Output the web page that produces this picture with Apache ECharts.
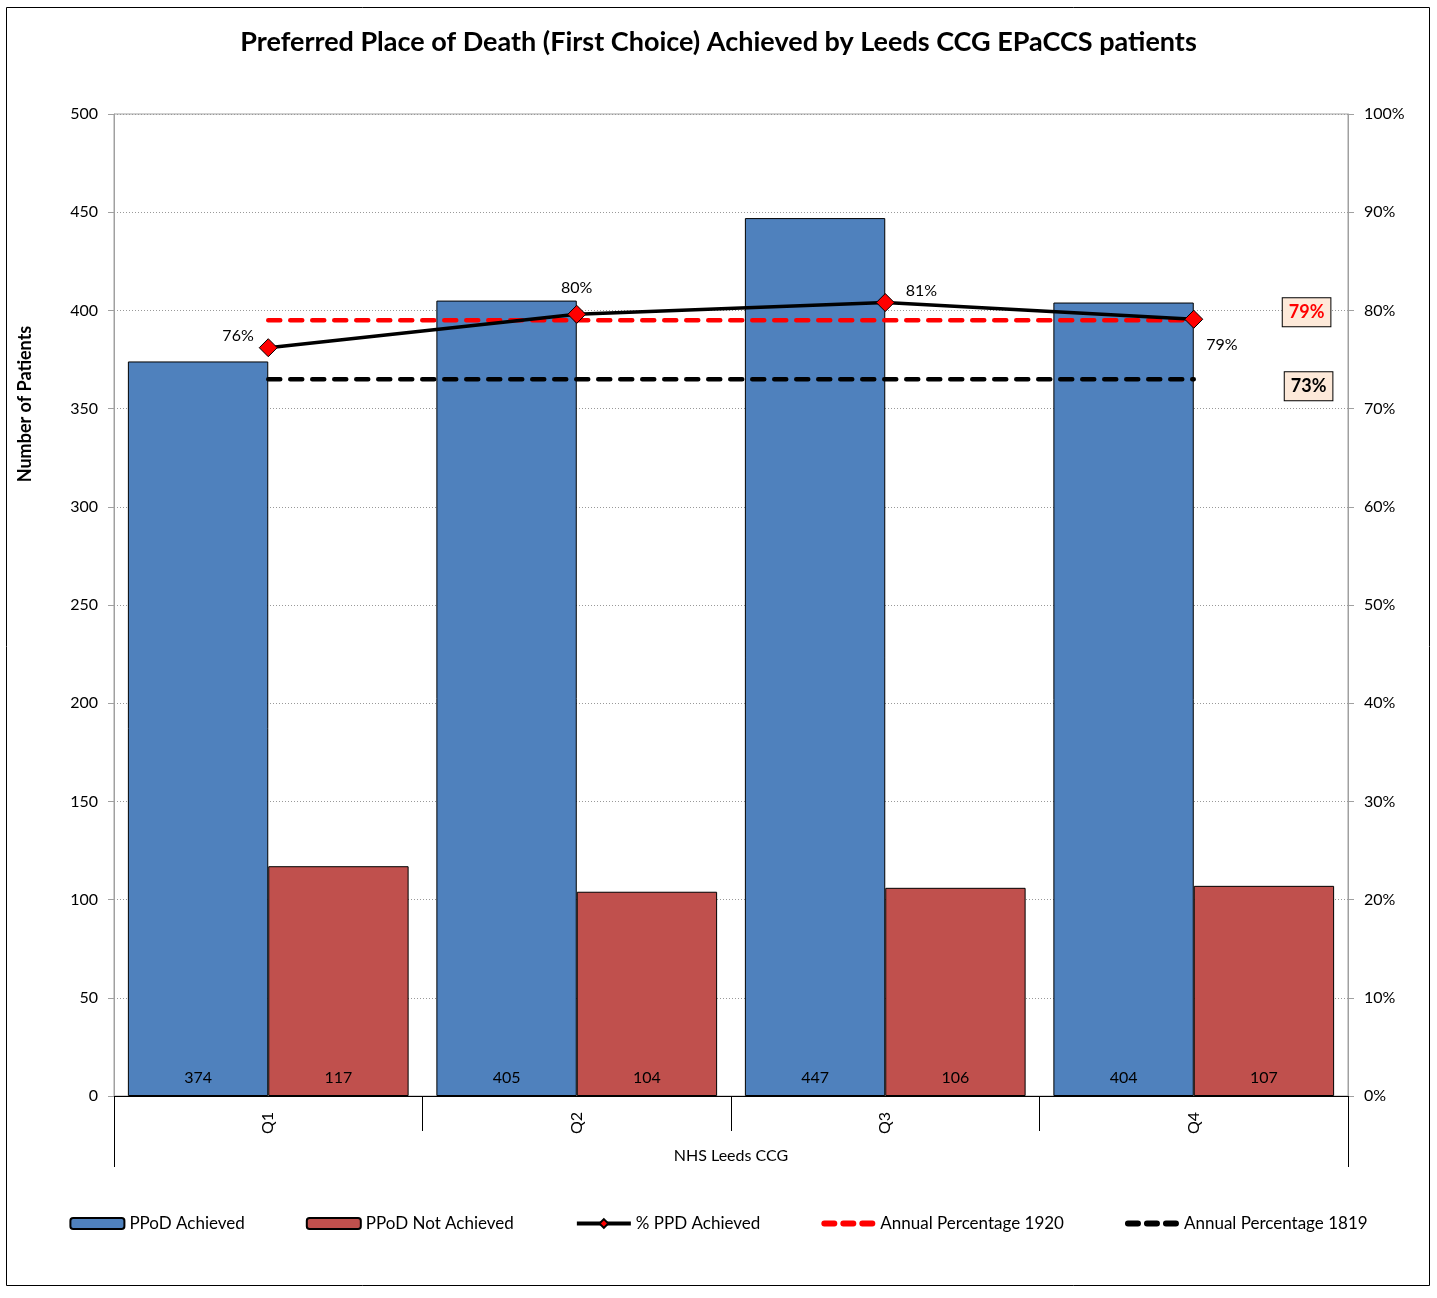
<!DOCTYPE html>
<html><head><meta charset="utf-8">
<script src="https://cdn.jsdelivr.net/npm/echarts@6/dist/echarts.min.js"></script>
<style>html,body{margin:0;padding:0;background:#fff}#c{width:1437px;height:1298px}</style>
</head><body><div id="c"></div>
<script>
const categories = ['Q1','Q2','Q3','Q4'];
const achieved = [374,405,447,404];
const notAchieved = [117,104,106,107];
const pctAchieved = [0.762,0.796,0.808,0.791];
const annual1920 = [0.79,0.79,0.79,0.79];
const annual1819 = [0.73,0.73,0.73,0.73];
const groupLabel = ['NHS Leeds CCG'];

const FONT = 'Lato';
const chart = echarts.init(document.getElementById('c'));
const pctLabelPos = [
  {position:'left', offset:[0,-12]},
  {position:'top', offset:[0,-4]},
  {position:'right', offset:[6,-12]},
  {position:'right', offset:[-2,26]}
];
const dashIcon = 'path://M3,0h10a3,3 0 0 1 0,6h-10a3,3 0 0 1 0,-6z M22,0h10a3,3 0 0 1 0,6h-10a3,3 0 0 1 0,-6z M41,0h10a3,3 0 0 1 0,6h-10a3,3 0 0 1 0,-6z';
const boxLabel = (color, off) => ({show:true, position:'right', offset:off, fontSize:18, fontWeight:'bold', color:color,
  backgroundColor:'#FDE9D9', borderColor:'#000', borderWidth:1, padding:[6,6,4,6],
  formatter:p=>Math.round(p.value*100)+'%', fontFamily:FONT});
chart.setOption({
  animation:false,
  textStyle:{fontFamily:FONT},
  title:{text:'Preferred Place of Death (First Choice) Achieved by Leeds CCG EPaCCS patients',
    left:'center', top:24, textStyle:{fontFamily:FONT,fontSize:27,fontWeight:'bold',color:'#000'}},
  graphic:[
    {type:'rect', shape:{x:6.5,y:7.5,width:1423,height:1278}, style:{fill:'none',stroke:'#000',lineWidth:1}, silent:true, z:-1},
    {type:'text', x:25, y:404, rotation:Math.PI/2, style:{text:'Number of Patients', font:'bold 18px '+FONT, fill:'#000', textAlign:'center', textVerticalAlign:'middle'}}
  ],
  grid:{left:114, right:89, top:114, bottom:202, show:true, borderColor:'#a0a0a0', borderWidth:1},
  legend:{bottom:61, left:'center', itemGap:61, itemWidth:54, itemHeight:11,
    textStyle:{fontFamily:FONT,fontSize:17,color:'#000'},
    data:[
      {name:'PPoD Achieved'},
      {name:'PPoD Not Achieved'},
      {name:'% PPD Achieved', lineStyle:{width:4}},
      {name:'Annual Percentage 1920', icon:dashIcon},
      {name:'Annual Percentage 1819', icon:dashIcon}
    ]},
  xAxis:[
    {type:'category', data:categories, position:'bottom',
      axisLine:{show:true, lineStyle:{color:'#000',width:1}},
      axisTick:{show:true, length:35, interval:0, lineStyle:{color:'#000',width:1}},
      axisLabel:{show:true, rotate:90, fontSize:16, color:'#000', margin:16, fontFamily:FONT},
      splitLine:{show:false}},
    {type:'category', data:groupLabel, position:'bottom', offset:0,
      axisLine:{show:false},
      axisTick:{show:true, length:71, lineStyle:{color:'#000',width:1}},
      axisLabel:{show:true, fontSize:16, color:'#000', margin:52, fontFamily:FONT},
      splitLine:{show:false}}
  ],
  yAxis:[
    {type:'value', min:0, max:500, interval:50,
      axisLine:{show:true, lineStyle:{color:'#a0a0a0'}},
      axisTick:{show:true, length:6, lineStyle:{color:'#a0a0a0'}},
      axisLabel:{fontSize:16, color:'#000', margin:16, fontFamily:FONT},
      splitLine:{show:true, lineStyle:{color:'#999', type:[1,2], width:1}}},
    {type:'value', min:0, max:1, interval:0.1, position:'right',
      axisLine:{show:true, lineStyle:{color:'#a0a0a0'}},
      axisTick:{show:true, length:6, lineStyle:{color:'#a0a0a0'}},
      axisLabel:{fontSize:16, color:'#000', margin:16, fontFamily:FONT,
        formatter:v=>Math.round(v*100)+'%'},
      splitLine:{show:false}}
  ],
  series:[
    {name:'PPoD Achieved', type:'bar', data:achieved, barGap:'0%', barCategoryGap:'9%',
      itemStyle:{color:'#4F81BD', borderColor:'#000', borderWidth:1},
      label:{show:true, position:'insideBottom', distance:10, fontSize:16, color:'#000', fontFamily:FONT}},
    {name:'PPoD Not Achieved', type:'bar', data:notAchieved,
      itemStyle:{color:'#C0504D', borderColor:'#000', borderWidth:1},
      label:{show:true, position:'insideBottom', distance:10, fontSize:16, color:'#000', fontFamily:FONT}},
    {name:'Annual Percentage 1920', type:'line', yAxisIndex:1, data:annual1920.map((v,i)=>{
        const d={value:v};
        if(i===annual1920.length-1) d.label=boxLabel('#FF0000',[84,-8]);
        return d;}),
      symbol:'circle', symbolSize:0, showSymbol:true, z:3,
      lineStyle:{color:'#FF0000', width:4.5, type:[12,10], cap:'round'},
      itemStyle:{color:'#FF0000'},
      label:{show:false}},
    {name:'Annual Percentage 1819', type:'line', yAxisIndex:1, data:annual1819.map((v,i)=>{
        const d={value:v};
        if(i===annual1819.length-1) d.label=boxLabel('#000',[86,7]);
        return d;}),
      symbol:'circle', symbolSize:0, showSymbol:true, z:3,
      lineStyle:{color:'#000', width:4.5, type:[12,10], cap:'round'},
      itemStyle:{color:'#000'},
      label:{show:false}},
    {name:'% PPD Achieved', type:'line', yAxisIndex:1,
      data:pctAchieved.map((v,i)=>({value:v, label:pctLabelPos[i]})),
      symbol:'diamond', symbolSize:18, z:5,
      lineStyle:{color:'#000', width:3.5},
      itemStyle:{color:'#FF0000', borderColor:'#000', borderWidth:1},
      label:{show:true, fontSize:16, color:'#000', fontFamily:FONT,
        formatter:p=>Math.round(p.value*100)+'%'}}
  ]
});
</script></body></html>
